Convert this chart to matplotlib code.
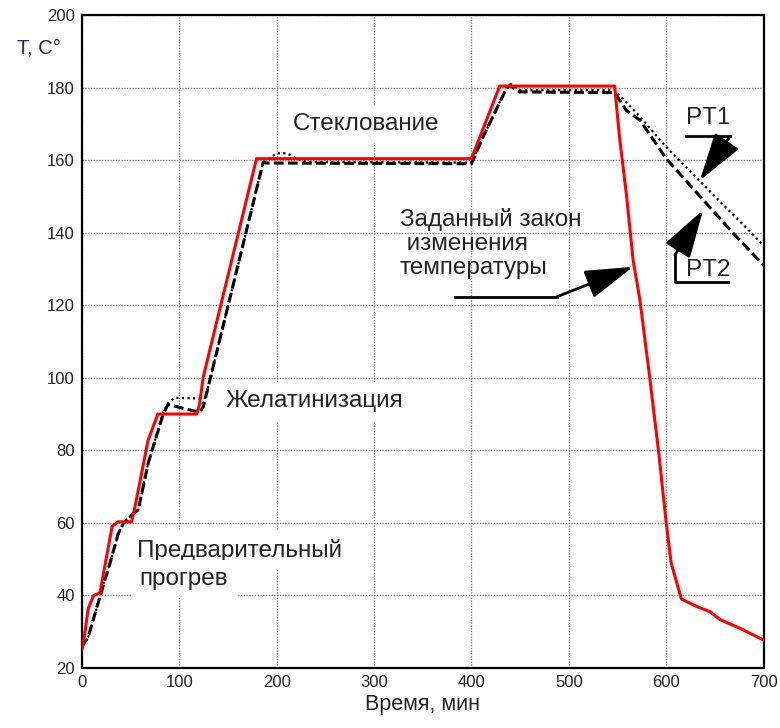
import matplotlib
matplotlib.use('Agg')
import matplotlib.pyplot as plt

plt.rcParams['font.family'] = ['Liberation Sans', 'DejaVu Sans']

# setpoint (red)
t_set = [0, 3, 6.5, 12, 18.5, 31, 37, 51, 54.5, 68, 78, 118, 121, 124.6, 179.3,
         400, 429, 547, 552, 559, 566, 573, 583, 592, 600, 605, 615.6, 631, 645,
         655, 676, 700]
T_set = [25, 29.6, 36.4, 40, 40.7, 59, 60.3, 60.3, 64.4, 82.8, 90, 90, 93, 100.2, 160.4,
         160.4, 180.4, 180.4, 166.4, 150.8, 132.4, 121.4, 100.2, 80, 60, 49, 39, 37, 35.5,
         33.4, 30.9, 27.7]

# PT2 (dashed)
t_pt2 = [0, 6.5, 18.5, 28.7, 37.3, 42.4, 52.6, 57.8, 68, 73.2, 83.5, 88.5, 105, 121,
         124.6, 129.7, 186, 190, 400, 412, 436, 439.5, 449.7, 547, 559, 573, 600, 638,
         670, 700]
T_pt2 = [25.9, 28.6, 39.6, 48.8, 57, 59.8, 62.6, 63.5, 76.4, 81, 90, 92.7, 91.5, 90.5,
         92, 97.5, 159.3, 159.2, 159, 166.4, 179.8, 180.6, 178.8, 178.6, 173.7, 171, 160.4,
         149, 139.5, 131]

# PT1 (dotted)
t_pt1 = [0, 6.5, 18.5, 28.7, 37.3, 42.4, 52.6, 57.8, 68, 73.2, 83.5, 88.5, 95, 120,
         124.6, 129.7, 186, 193, 200, 210, 220, 230, 400, 412, 436, 440, 450, 547, 573,
         600, 650, 700]
T_pt1 = [25.9, 28.6, 39.6, 48.8, 57, 59.8, 62.6, 63.5, 76.4, 81, 90.5, 93, 94.5, 94.3,
         93, 97.5, 159.3, 160.5, 161.9, 161.9, 160.5, 159.5, 159.3, 166.4, 180, 181, 179.3,
         179.3, 172, 163.6, 150, 136.5]

fig = plt.figure(figsize=(7.8, 7.28), dpi=100)
ax = fig.add_axes([0.105, 0.0824, 0.874, 0.897])

ax.plot(t_pt1, T_pt1, color='black', lw=1.6, linestyle=(0, (1, 1.5)), zorder=3)
ax.plot(t_pt2, T_pt2, color='black', lw=2.2, linestyle=(0, (3.2, 1.4)), zorder=3)
ax.plot(t_set, T_set, color='#ff0000', lw=2.2, zorder=4)

ax.set_xlim(0, 700)
ax.set_ylim(20, 200)
ax.set_xticks(range(0, 701, 100))
ax.set_yticks(range(20, 201, 20))
ax.grid(True, color='#888888', linestyle=(0, (1, 1)), lw=1)
ax.tick_params(length=0, labelsize=12, pad=5, colors='#222222')
for s in ax.spines.values():
    s.set_linewidth(1.6)
    s.set_color('black')

ax.set_xlabel('Время, мин', fontsize=15.5, color='#222222', labelpad=3)
fig.text(0.022, 0.926, 'T, C°', fontsize=14.5, color='#2a2a3a')

box = dict(facecolor='white', edgecolor='none', pad=6)
txt = dict(fontsize=17.5, color='#222222', zorder=5)
ax.text(292, 170, 'Стеклование', ha='center', va='center', bbox=box, **txt)
ax.text(148, 93.5, 'Желатинизация', ha='left', va='center', bbox=box, **txt)
ax.text(57, 52.5, 'Предварительный', ha='left', va='center', bbox=box, **txt)
ax.text(59.5, 44.5, 'прогрев', ha='left', va='center', bbox=box, **txt)
ax.text(326.5, 137, 'Заданный закон\n изменения\nтемпературы', ha='left', va='center',
        linespacing=1.1, **txt)

ax.text(643, 171.5, 'PT1', ha='center', va='center', **txt)
ax.text(643, 129.8, 'PT2', ha='center', va='center', **txt)

arrow = dict(arrowstyle='-|>,head_length=1.5,head_width=0.45', color='black', lw=2,
             mutation_scale=20, shrinkA=0, shrinkB=0)

# PT1 pointer
ax.plot([620.8, 665.7], [166.6, 166.6], color='black', lw=2, zorder=5)
ax.annotate('', xy=(634.5, 154.4), xytext=(665.7, 166.6), arrowprops=arrow, zorder=5)

# PT2 pointer
ax.plot([663.5, 608.8, 608.8], [126.4, 126.4, 133.8], color='black', lw=2, zorder=5)
ax.annotate('', xy=(637.8, 146.2), xytext=(608.8, 133.8), arrowprops=arrow, zorder=5)

# setpoint pointer
ax.plot([383, 487.4], [122.3, 122.3], color='black', lw=2, zorder=5)
ax.annotate('', xy=(566, 130.6), xytext=(487.4, 122.3), arrowprops=arrow, zorder=5)

plt.savefig('out.png', dpi=100)
